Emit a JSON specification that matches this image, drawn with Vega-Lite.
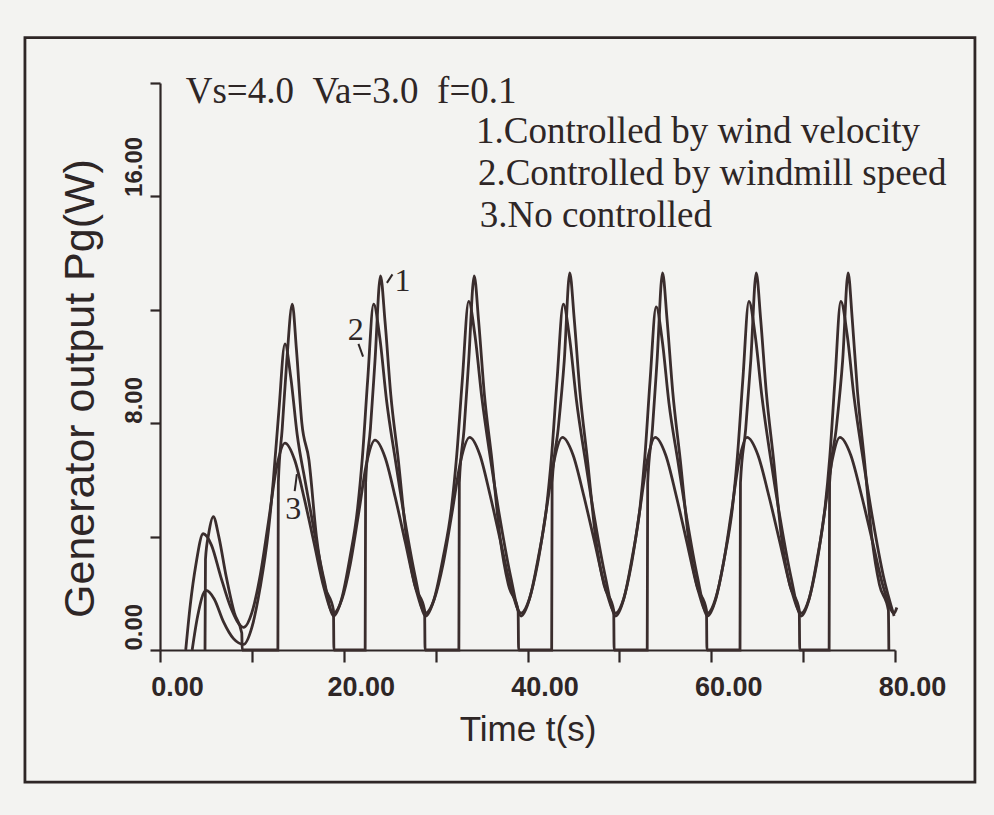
{
  "$schema": "https://vega.github.io/schema/vega-lite/v6.json",
  "width": 735,
  "height": 567,
  "autosize": {"type": "none"},
  "padding": {"left": 160, "top": 83, "right": 99, "bottom": 165},
  "background": "#f3f3f1",
  "config": {
    "view": {"stroke": null},
    "axis": {
      "grid": false,
      "domainColor": "#2e2626",
      "tickColor": "#2e2626",
      "labelColor": "#2e2626",
      "titleColor": "#2e2626",
      "domainWidth": 2.2,
      "tickWidth": 2.2,
      "labelFont": "Liberation Sans",
      "titleFont": "Liberation Sans",
      "titleFontWeight": "normal",
      "labelFontWeight": "bold",
      "labelFlush": false,
      "labelOverlap": false
    }
  },
  "encoding": {
    "x": {
      "field": "t",
      "type": "quantitative",
      "scale": {"domain": [0, 80], "nice": false, "zero": false},
      "axis": {
        "values": [0, 10, 20, 30, 40, 50, 60, 70, 80],
        "labelExpr": "datum.value % 20 === 0 ? format(datum.value, '.2f') : ''",
        "title": "Time  t(s)",
        "titleFontSize": 35,
        "labelFontSize": 27,
        "tickSize": 12,
        "labelPadding": 12,
        "labelOffset": 17,
        "titlePadding": 12
      }
    },
    "y": {
      "field": "p",
      "type": "quantitative",
      "scale": {"domain": [0, 20], "nice": false, "zero": false},
      "axis": {
        "values": [0, 4, 8, 12, 16, 20],
        "labelExpr": "datum.value % 8 === 0 ? format(datum.value, '.2f') : ''",
        "title": "Generator output Pg(W)",
        "titleFontSize": 43,
        "titleY": 305,
        "labelFontSize": 24,
        "labelAngle": -90,
        "labelAlign": "left",
        "labelBaseline": "bottom",
        "tickSize": 10,
        "labelPadding": 4,
        "titlePadding": 20
      }
    }
  },
  "layer": [
    {
      "data": {"values": [{"t": -14.7, "p": 21.6, "t2": 88.7, "p2": -4.66}]},
      "mark": {"type": "rect", "filled": false, "stroke": "#2e2626", "strokeWidth": 2.8},
      "encoding": {"x2": {"field": "t2"}, "y2": {"field": "p2"}}
    },
    {
      "data": {"values": [
        {"c":1,"t":4.9,"p":0},{"c":1,"t":4.95,"p":3.2},{"c":1,"t":5.3,"p":4.1},{"c":1,"t":5.8,"p":4.7},{"c":1,"t":6.4,"p":4.0},{"c":1,"t":7.2,"p":2.6},{"c":1,"t":8.1,"p":1.3},{"c":1,"t":8.9,"p":0.6},{"c":1,"t":8.95,"p":0},{"c":1,"t":12.83,"p":0},
        {"c":1,"t":12.88,"p":5.9},{"c":1,"t":13.3,"p":7.8},{"c":1,"t":13.8,"p":10.2},{"c":1,"t":14.4,"p":12.2},{"c":1,"t":14.85,"p":10.6},{"c":1,"t":15.44,"p":8.0},{"c":1,"t":16.21,"p":6.7},{"c":1,"t":17.03,"p":4.0},{"c":1,"t":17.89,"p":2.3},{"c":1,"t":18.88,"p":1.4},{"c":1,"t":18.93,"p":0},{"c":1,"t":22.33,"p":0},
        {"c":1,"t":22.38,"p":5.9},{"c":1,"t":22.9,"p":7.8},{"c":1,"t":23.4,"p":10.2},{"c":1,"t":24.0,"p":13.2},{"c":1,"t":24.49,"p":11.6},{"c":1,"t":25.12,"p":9.0},{"c":1,"t":25.94,"p":6.7},{"c":1,"t":26.81,"p":4.0},{"c":1,"t":27.73,"p":2.3},{"c":1,"t":28.8,"p":1.4},{"c":1,"t":28.85,"p":0},{"c":1,"t":32.53,"p":0},
        {"c":1,"t":32.58,"p":5.9},{"c":1,"t":33.1,"p":7.8},{"c":1,"t":33.6,"p":10.2},{"c":1,"t":34.2,"p":13.2},{"c":1,"t":34.68,"p":11.6},{"c":1,"t":35.31,"p":9.0},{"c":1,"t":36.13,"p":6.7},{"c":1,"t":37.0,"p":4.0},{"c":1,"t":37.92,"p":2.3},{"c":1,"t":38.98,"p":1.4},{"c":1,"t":39.03,"p":0},{"c":1,"t":42.63,"p":0},
        {"c":1,"t":42.68,"p":5.9},{"c":1,"t":43.34,"p":7.8},{"c":1,"t":44.0,"p":10.2},{"c":1,"t":44.6,"p":13.3},{"c":1,"t":45.08,"p":11.7},{"c":1,"t":45.71,"p":9.1},{"c":1,"t":46.53,"p":6.7},{"c":1,"t":47.4,"p":4.0},{"c":1,"t":48.32,"p":2.3},{"c":1,"t":49.38,"p":1.4},{"c":1,"t":49.43,"p":0},{"c":1,"t":53.03,"p":0},
        {"c":1,"t":53.08,"p":5.9},{"c":1,"t":53.6,"p":7.8},{"c":1,"t":54.1,"p":10.2},{"c":1,"t":54.7,"p":13.3},{"c":1,"t":55.18,"p":11.7},{"c":1,"t":55.81,"p":9.1},{"c":1,"t":56.63,"p":6.7},{"c":1,"t":57.5,"p":4.0},{"c":1,"t":58.42,"p":2.3},{"c":1,"t":59.48,"p":1.4},{"c":1,"t":59.53,"p":0},{"c":1,"t":63.13,"p":0},
        {"c":1,"t":63.18,"p":5.9},{"c":1,"t":63.75,"p":7.8},{"c":1,"t":64.3,"p":10.2},{"c":1,"t":64.9,"p":13.3},{"c":1,"t":65.37,"p":11.7},{"c":1,"t":65.99,"p":9.1},{"c":1,"t":66.79,"p":6.7},{"c":1,"t":67.64,"p":4.0},{"c":1,"t":68.54,"p":2.3},{"c":1,"t":69.58,"p":1.4},{"c":1,"t":69.63,"p":0},{"c":1,"t":72.83,"p":0},
        {"c":1,"t":72.88,"p":5.9},{"c":1,"t":73.6,"p":7.8},{"c":1,"t":74.3,"p":10.2},{"c":1,"t":74.9,"p":13.3},{"c":1,"t":75.34,"p":11.7},{"c":1,"t":75.92,"p":9.1},{"c":1,"t":76.67,"p":6.7},{"c":1,"t":77.47,"p":4.0},{"c":1,"t":78.31,"p":2.3},{"c":1,"t":79.28,"p":1.4},{"c":1,"t":79.33,"p":0},
        {"c":2,"t":3.5,"p":0},{"c":2,"t":4.1,"p":1.2},{"c":2,"t":5.0,"p":2.1},{"c":2,"t":5.9,"p":1.8},{"c":2,"t":6.9,"p":1.0},{"c":2,"t":8.0,"p":0.4},{"c":2,"t":9.1,"p":0.2},
        {"c":2,"t":10.0,"p":0.8},{"c":2,"t":10.9,"p":2.2},{"c":2,"t":11.8,"p":4.2},{"c":2,"t":12.34,"p":6.0},{"c":2,"t":12.93,"p":8.4},{"c":2,"t":13.6,"p":10.8},{"c":2,"t":14.24,"p":9.6},{"c":2,"t":14.93,"p":7.6},{"c":2,"t":15.83,"p":5.9},{"c":2,"t":16.78,"p":4.2},{"c":2,"t":17.84,"p":2.5},{"c":2,"t":18.9,"p":1.2},
        {"c":2,"t":19.77,"p":1.8},{"c":2,"t":20.64,"p":3.2},{"c":2,"t":21.51,"p":5.0},{"c":2,"t":22.03,"p":6.8},{"c":2,"t":22.6,"p":9.5},{"c":2,"t":23.25,"p":12.2},{"c":2,"t":23.93,"p":11.0},{"c":2,"t":24.66,"p":8.8},{"c":2,"t":25.62,"p":6.7},{"c":2,"t":26.64,"p":4.6},{"c":2,"t":27.77,"p":2.6},{"c":2,"t":28.9,"p":1.2},
        {"c":2,"t":29.84,"p":1.8},{"c":2,"t":30.78,"p":3.2},{"c":2,"t":31.72,"p":5.0},{"c":2,"t":32.28,"p":6.8},{"c":2,"t":32.9,"p":9.5},{"c":2,"t":33.6,"p":12.3},{"c":2,"t":34.28,"p":11.1},{"c":2,"t":35.03,"p":8.9},{"c":2,"t":35.99,"p":6.7},{"c":2,"t":37.02,"p":4.6},{"c":2,"t":38.16,"p":2.6},{"c":2,"t":39.3,"p":1.2},
        {"c":2,"t":40.22,"p":1.8},{"c":2,"t":41.14,"p":3.2},{"c":2,"t":42.06,"p":5.0},{"c":2,"t":42.61,"p":6.8},{"c":2,"t":43.21,"p":9.5},{"c":2,"t":43.9,"p":12.2},{"c":2,"t":44.58,"p":11.0},{"c":2,"t":45.33,"p":8.8},{"c":2,"t":46.29,"p":6.7},{"c":2,"t":47.32,"p":4.6},{"c":2,"t":48.46,"p":2.6},{"c":2,"t":49.6,"p":1.2},
        {"c":2,"t":50.48,"p":1.8},{"c":2,"t":51.36,"p":3.2},{"c":2,"t":52.24,"p":5.0},{"c":2,"t":52.77,"p":6.8},{"c":2,"t":53.34,"p":9.5},{"c":2,"t":54.0,"p":12.1},{"c":2,"t":54.67,"p":10.9},{"c":2,"t":55.4,"p":8.7},{"c":2,"t":56.35,"p":6.7},{"c":2,"t":57.36,"p":4.6},{"c":2,"t":58.48,"p":2.6},{"c":2,"t":59.6,"p":1.2},
        {"c":2,"t":60.5,"p":1.8},{"c":2,"t":61.4,"p":3.2},{"c":2,"t":62.3,"p":5.0},{"c":2,"t":62.84,"p":6.8},{"c":2,"t":63.43,"p":9.5},{"c":2,"t":64.1,"p":12.3},{"c":2,"t":64.78,"p":11.1},{"c":2,"t":65.53,"p":8.9},{"c":2,"t":66.49,"p":6.7},{"c":2,"t":67.52,"p":4.6},{"c":2,"t":68.66,"p":2.6},{"c":2,"t":69.8,"p":1.2},
        {"c":2,"t":70.66,"p":1.8},{"c":2,"t":71.52,"p":3.2},{"c":2,"t":72.38,"p":5.0},{"c":2,"t":72.9,"p":6.8},{"c":2,"t":73.46,"p":9.5},{"c":2,"t":74.1,"p":12.3},{"c":2,"t":74.8,"p":11.1},{"c":2,"t":75.55,"p":8.9},{"c":2,"t":76.54,"p":6.7},{"c":2,"t":77.58,"p":4.6},{"c":2,"t":78.74,"p":2.6},{"c":2,"t":79.9,"p":1.2},
        {"c":3,"t":2.8,"p":0},{"c":3,"t":3.3,"p":1.6},{"c":3,"t":3.9,"p":3.0},{"c":3,"t":4.7,"p":4.1},{"c":3,"t":5.6,"p":3.7},{"c":3,"t":6.6,"p":2.6},{"c":3,"t":7.7,"p":1.5},{"c":3,"t":9.1,"p":0.8},
        {"c":3,"t":10.0,"p":1.32},{"c":3,"t":10.9,"p":2.62},{"c":3,"t":11.8,"p":4.51},{"c":3,"t":12.7,"p":6.46},{"c":3,"t":13.6,"p":7.3},{"c":3,"t":14.66,"p":6.7},{"c":3,"t":15.72,"p":5.32},{"c":3,"t":16.78,"p":3.76},{"c":3,"t":17.84,"p":2.2},{"c":3,"t":18.9,"p":1.3},
        {"c":3,"t":19.8,"p":1.79},{"c":3,"t":20.7,"p":3.01},{"c":3,"t":21.6,"p":4.78},{"c":3,"t":22.5,"p":6.61},{"c":3,"t":23.4,"p":7.4},{"c":3,"t":24.5,"p":6.79},{"c":3,"t":25.6,"p":5.39},{"c":3,"t":26.7,"p":3.8},{"c":3,"t":27.8,"p":2.21},{"c":3,"t":28.9,"p":1.3},
        {"c":3,"t":29.86,"p":1.8},{"c":3,"t":30.82,"p":3.04},{"c":3,"t":31.78,"p":4.83},{"c":3,"t":32.74,"p":6.69},{"c":3,"t":33.7,"p":7.5},{"c":3,"t":34.82,"p":6.88},{"c":3,"t":35.94,"p":5.45},{"c":3,"t":37.06,"p":3.84},{"c":3,"t":38.18,"p":2.23},{"c":3,"t":39.3,"p":1.3},
        {"c":3,"t":40.2,"p":1.8},{"c":3,"t":41.1,"p":3.04},{"c":3,"t":42.0,"p":4.83},{"c":3,"t":42.9,"p":6.69},{"c":3,"t":43.8,"p":7.5},{"c":3,"t":44.96,"p":6.88},{"c":3,"t":46.12,"p":5.45},{"c":3,"t":47.28,"p":3.84},{"c":3,"t":48.44,"p":2.23},{"c":3,"t":49.6,"p":1.3},
        {"c":3,"t":50.46,"p":1.8},{"c":3,"t":51.32,"p":3.04},{"c":3,"t":52.18,"p":4.83},{"c":3,"t":53.04,"p":6.69},{"c":3,"t":53.9,"p":7.5},{"c":3,"t":55.04,"p":6.88},{"c":3,"t":56.18,"p":5.45},{"c":3,"t":57.32,"p":3.84},{"c":3,"t":58.46,"p":2.23},{"c":3,"t":59.6,"p":1.3},
        {"c":3,"t":60.46,"p":1.8},{"c":3,"t":61.32,"p":3.04},{"c":3,"t":62.18,"p":4.83},{"c":3,"t":63.04,"p":6.69},{"c":3,"t":63.9,"p":7.5},{"c":3,"t":65.08,"p":6.88},{"c":3,"t":66.26,"p":5.45},{"c":3,"t":67.44,"p":3.84},{"c":3,"t":68.62,"p":2.23},{"c":3,"t":69.8,"p":1.3},
        {"c":3,"t":70.64,"p":1.8},{"c":3,"t":71.48,"p":3.04},{"c":3,"t":72.32,"p":4.83},{"c":3,"t":73.16,"p":6.69},{"c":3,"t":74.0,"p":7.5},{"c":3,"t":75.18,"p":6.88},{"c":3,"t":76.36,"p":5.45},{"c":3,"t":77.54,"p":3.84},{"c":3,"t":78.72,"p":2.23},{"c":3,"t":79.9,"p":1.3},{"c":3,"t":80.2,"p":1.5}
      ]},
      "mark": {"type": "line", "interpolate": "monotone", "strokeWidth": 2.8, "color": "#3a2d2d"},
      "encoding": {"detail": {"field": "c", "type": "nominal"}}
    },
    {
      "data": {"values": [
        {"t": 2.8, "p": 19.7, "txt": "Vs=4.0\u00a0\u00a0Va=3.0\u00a0\u00a0f=0.1"},
        {"t": 34.4, "p": 18.27, "txt": "1.Controlled by wind velocity"},
        {"t": 34.6, "p": 16.8, "txt": "2.Controlled by windmill speed"},
        {"t": 34.8, "p": 15.3, "txt": "3.No controlled"}
      ]},
      "mark": {"type": "text", "align": "left", "baseline": "middle", "font": "Liberation Serif", "fontSize": 37, "color": "#2e2626"},
      "encoding": {"text": {"field": "txt"}}
    },
    {
      "data": {"values": [
        {"t": 26.4, "p": 13.0, "txt": "1"},
        {"t": 21.3, "p": 11.3, "txt": "2"},
        {"t": 14.5, "p": 4.97, "txt": "3"}
      ]},
      "mark": {"type": "text", "align": "center", "baseline": "middle", "font": "Liberation Serif", "fontSize": 32, "color": "#2e2626"},
      "encoding": {"text": {"field": "txt"}}
    },
    {
      "data": {"values": [
        {"t": 24.7, "p": 12.95, "t2": 25.3, "p2": 13.25},
        {"t": 21.6, "p": 10.8, "t2": 22.1, "p2": 10.35},
        {"t": 14.66, "p": 5.6, "t2": 14.9, "p2": 6.2}
      ]},
      "mark": {"type": "rule", "strokeWidth": 2, "color": "#2e2626"},
      "encoding": {"x2": {"field": "t2"}, "y2": {"field": "p2"}}
    }
  ]
}
